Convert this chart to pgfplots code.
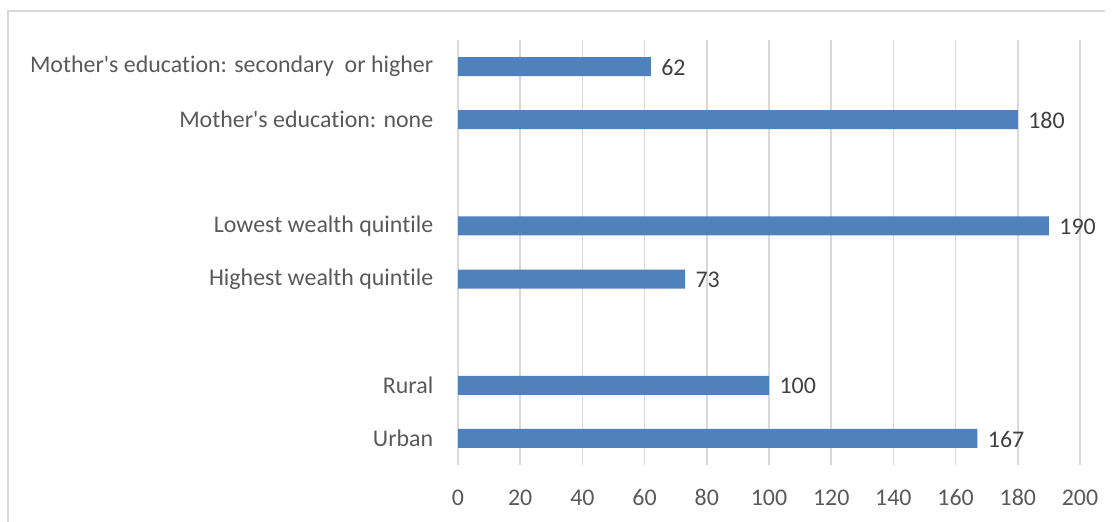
\documentclass[border=0pt]{standalone}
\usepackage{pgfplots}
\pgfplotsset{compat=1.18}
\usepackage{fontspec}
\setmainfont{Carlito}[Ligatures=NoCommon]
\definecolor{barblue}{HTML}{4F81BD}
\definecolor{gridgray}{HTML}{D9D9D9}
\definecolor{labelgray}{HTML}{595959}
\definecolor{datagray}{HTML}{404040}
\begin{document}
\begin{tikzpicture}[x=1bp,y=1bp]
\useasboundingbox (0,0) rectangle (1119,522);
\draw[color=gridgray, line width=1.2bp] (8,0) -- (8,511) -- (1105,511);
\begin{axis}[
  at={(458bp,57bp)}, anchor=south west,
  scale only axis, width=622bp, height=425bp,
  xmin=0, xmax=200, ymin=-0.5, ymax=7.5,
  xtick={0,20,...,200},
  ytick={0,1,3,4,6,7},
  yticklabels={Urban,Rural,Highest wealth quintile,Lowest wealth quintile,{Mother\textquotesingle s education: none},{Mother\textquotesingle s education: secondary~ or higher}},
  axis line style={draw=none},
  tick style={draw=none},
  xmajorgrids,
  major grid style={gridgray, line width=1.5bp},
  /pgf/number format/assume math mode=true,
  font=\fontsize{24}{28}\selectfont,
  ticklabel style={font=\fontsize{24}{28}\selectfont, text=labelgray},
  xticklabel style={yshift=-21bp},
  yticklabel style={xshift=-17bp},
  xbar, bar width=19bp,
  nodes near coords,
  nodes near coords style={anchor=west, xshift=7bp, yshift=-1bp, text=datagray, font=\fontsize{24}{28}\selectfont},
]
\addplot[fill=barblue, draw=none] coordinates {
  (167,0) (100,1) (73,3) (190,4) (180,6) (62,7)
};
\end{axis}
\end{tikzpicture}
\end{document}
